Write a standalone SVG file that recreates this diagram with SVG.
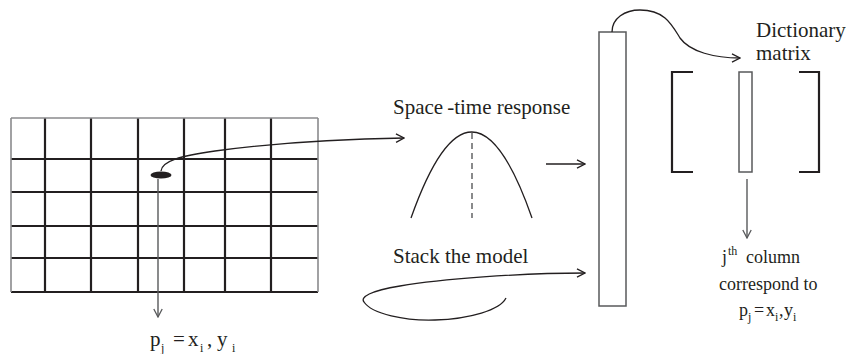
<svg xmlns="http://www.w3.org/2000/svg" width="846" height="354" viewBox="0 0 846 354" font-family="'Liberation Serif', 'Times New Roman', serif">
  <style>
    text { fill: #231f20; }
    .lbl { font-size: 21px; }
    .sm { font-size: 18px; }
    .sub { font-size: 12px; }
    .grid { stroke: #231f20; stroke-width: 2.2; fill: none; }
    .edge { stroke: #8a8b8d; stroke-width: 1.6; fill: none; }
    .curve { stroke: #231f20; stroke-width: 1.3; fill: none; }
    .gray { stroke: #58595b; stroke-width: 1.4; fill: none; }
    .box { stroke: #58595b; stroke-width: 1.5; fill: #ffffff; }
    .bracket { stroke: #231f20; stroke-width: 2.2; fill: none; }
  </style>
  <defs>
    <marker id="chev" viewBox="0 0 10 10" refX="9" refY="5" markerWidth="10" markerHeight="10" markerUnits="userSpaceOnUse" orient="auto">
      <path d="M1,0.8 L9,5 L1,9.2" fill="none" stroke="#231f20" stroke-width="1.3"/>
    </marker>
    <marker id="chevg" viewBox="0 0 10 10" refX="9" refY="5" markerWidth="10" markerHeight="10" markerUnits="userSpaceOnUse" orient="auto">
      <path d="M1,0.8 L9,5 L1,9.2" fill="none" stroke="#58595b" stroke-width="1.3"/>
    </marker>
  </defs>

  <!-- sensor grid -->
  <g id="grid">
    <path class="grid" d="M45,118 V292 M91,118 V292 M138,118 V292 M184,118 V292 M225,118 V292 M271,118 V292"/>
    <path class="grid" d="M11,159 H318 M11,192 H318 M11,226 H318 M11,258 H318 M11,292 H318"/>
    <path class="edge" d="M11,118 H318 M11,118 V292 M318,118 V292"/>
    <ellipse cx="161" cy="175" rx="10.5" ry="3.6" fill="#231f20"/>
  </g>

  <g id="grid-label">
    <text class="lbl" x="150" y="346">p</text>
    <text class="sub" x="161" y="352">j</text>
    <text class="lbl" x="173" y="346">=</text>
    <text class="lbl" x="188" y="346">x</text>
    <text class="sub" x="200" y="352">i</text>
    <text class="lbl" x="207" y="346">,</text>
    <text class="lbl" x="217" y="346">y</text>
    <text class="sub" x="232" y="352">i</text>
  </g>

  <!-- space-time response -->
  <g id="response">
    <text class="lbl" x="393" y="114">Space<tspan dx="4">-time response</tspan></text>
    <path class="curve" d="M411,218 Q472,46 532,218"/>
    <line x1="472" y1="133" x2="472" y2="218" stroke="#58595b" stroke-width="1.4" stroke-dasharray="6,4"/>
  </g>

  <g id="stack-label">
    <text class="lbl" x="393" y="263">Stack the model</text>
  </g>

  <!-- stacked vector -->
  <g id="stacked">
    <rect class="box" x="599" y="32" width="27" height="274"/>
  </g>

  <!-- dictionary matrix -->
  <g id="dictionary">
    <text class="lbl" x="756" y="37">Dictionary</text>
    <text class="lbl" x="756" y="60">matrix</text>
    <path class="bracket" d="M693,72 H672 V172 H693"/>
    <path class="bracket" d="M799,72 H819 V172 H799"/>
    <rect class="box" x="739" y="72" width="13" height="100"/>
  </g>

  <g id="column-label">
    <text class="sm" x="722" y="263">j</text>
    <text class="sub" x="728" y="255">th</text>
    <text class="sm" x="746" y="263">column</text>
    <text class="sm" x="719" y="290">correspond to</text>
    <text class="sm" x="739" y="316">p</text>
    <text class="sub" x="748" y="321">j</text>
    <text class="sm" x="754" y="316">=</text>
    <text class="sm" x="766" y="316">x</text>
    <text class="sub" x="775" y="321">i</text>
    <text class="sm" x="779" y="316">,</text>
    <text class="sm" x="784" y="316">y</text>
    <text class="sub" x="793" y="321">i</text>
  </g>

  <!-- connectors -->
  <g id="connectors">
    <path class="curve" d="M161,171 C162,161 180,156 215,151 C260,145 330,139 404,138" marker-end="url(#chev)"/>
    <line class="gray" x1="158" y1="179" x2="158" y2="317" marker-end="url(#chevg)"/>
    <line class="curve" x1="546" y1="164" x2="585" y2="164" marker-end="url(#chev)"/>
    <path class="curve" d="M506,298 C500,310 470,319 435,320 C405,321 372,314 364,302 C360,297 370,291 400,286 C440,279 520,273 585,273" marker-end="url(#chev)"/>
    <path class="curve" d="M612,32 C612,18 625,10 640,10 C665,10 672,25 680,38 C690,52 715,58 740,58" marker-end="url(#chev)"/>
    <line class="gray" x1="747" y1="179" x2="747" y2="238" marker-end="url(#chevg)"/>
  </g>
</svg>
